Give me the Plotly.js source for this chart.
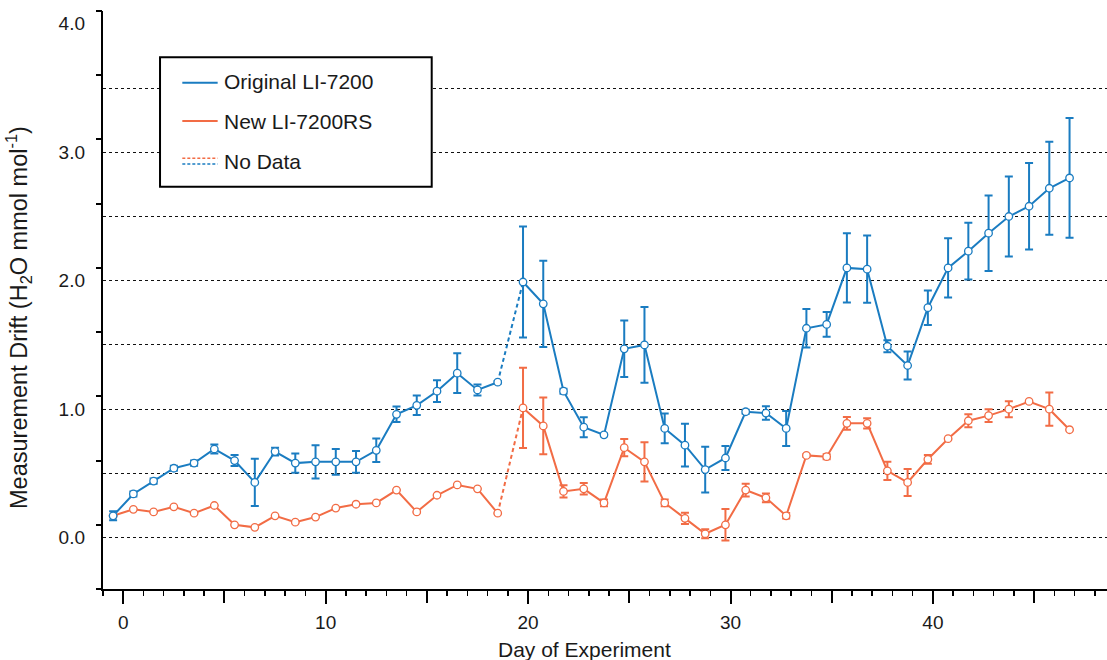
<!DOCTYPE html>
<html>
<head>
<meta charset="utf-8">
<script src="https://cdn.plot.ly/plotly-3.0.1.min.js"></script>
<style>
  html, body { margin: 0; padding: 0; background: #fff; }
  #chart { width: 1107px; height: 660px; }
</style>
</head>
<body>
<div id="chart"></div>
<script>
// ---- data ----
const days = [-0.5, 0.5, 1.5, 2.5, 3.5, 4.5, 5.5, 6.5, 7.5, 8.5, 9.5, 10.5, 11.5, 12.5, 13.5, 14.5, 15.5, 16.5, 17.5, 18.5,
  19.75, 20.75, 21.75, 22.75, 23.75, 24.75, 25.75, 26.75, 27.75, 28.75, 29.75, 30.75, 31.75, 32.75, 33.75,
  34.75, 35.75, 36.75, 37.75, 38.75, 39.75, 40.75, 41.75, 42.75, 43.75, 44.75, 45.75, 46.75];

const originalLI7200 = [0.17, 0.34, 0.44, 0.54, 0.58, 0.69, 0.60, 0.43, 0.67, 0.58, 0.59, 0.59, 0.59, 0.68, 0.96, 1.03, 1.14, 1.28, 1.15, 1.21,
  1.99, 1.82, 1.14, 0.86, 0.80, 1.47, 1.50, 0.85, 0.72, 0.53, 0.62, 0.98, 0.97, 0.85, 1.63,
  1.66, 2.10, 2.09, 1.49, 1.34, 1.79, 2.10, 2.23, 2.37, 2.50, 2.58, 2.72, 2.80];
const originalErr = [0.035, 0.02, 0.02, 0.02, 0.02, 0.035, 0.043, 0.184, 0.03, 0.075, 0.13, 0.10, 0.085, 0.092, 0.06, 0.076, 0.085, 0.155, 0.043, 0.01,
  0.432, 0.336, 0.02, 0.078, 0.01, 0.22, 0.295, 0.116, 0.167, 0.178, 0.093, 0.015, 0.053, 0.136, 0.15,
  0.096, 0.269, 0.262, 0.047, 0.109, 0.134, 0.23, 0.221, 0.294, 0.312, 0.336, 0.362, 0.466];

const newLI7200RS = [0.17, 0.22, 0.20, 0.24, 0.19, 0.25, 0.10, 0.08, 0.17, 0.12, 0.16, 0.23, 0.26, 0.27, 0.37, 0.20, 0.33, 0.41, 0.38, 0.19,
  1.01, 0.87, 0.36, 0.38, 0.27, 0.70, 0.59, 0.27, 0.15, 0.03, 0.10, 0.37, 0.31, 0.17, 0.64,
  0.63, 0.89, 0.89, 0.52, 0.43, 0.61, 0.77, 0.91, 0.95, 1.00, 1.06, 1.00, 0.84];
const newErr = [null, null, null, null, null, null, null, null, null, null, null, null, null, null, null, null, null, null, null, null,
  0.313, 0.221, 0.048, 0.045, 0.026, 0.067, 0.153, 0.026, 0.043, 0.035, 0.123, 0.049, 0.034, 0.022, 0.01,
  0.02, 0.05, 0.04, 0.071, 0.105, 0.034, null, 0.05, 0.05, 0.062, null, 0.129, null];

// index of last point before the "No Data" gap
const gapStart = 19;

// axis tick values / labels
const xLabelVals = [0, 10, 20, 30, 40];
const xLabelText = ["0", "10", "20", "30", "40"];
const xMidTicks = [5, 15, 25, 35, 45];
const yGridVals = [0, 0.5, 1, 1.5, 2, 2.5, 3, 3.5];
const yLabelVals = [0, 1, 2, 3, 4];
const yLabelText = ["0.0", "1.0", "2.0", "3.0", "4.0"];
const yTickMarks = [-0.4, 0.1, 0.6, 1.1, 1.6, 2.1, 2.6, 3.1, 3.6, 4.1];

const legendNames = ["Original LI-7200", "New LI-7200RS", "No Data"];
const xTitle = "Day of Experiment";
const yTitle = "Measurement Drift (H<sub>2</sub>O mmol mol<sup>-1</sup>)";

// ---- styling ----
const BLUE = "#1a7cc1";
const ORANGE = "#f26c45";
const FONT = "Liberation Sans, Arial, Helvetica, sans-serif";
const TXT = "#1a1a1a";

function solidTrace(x, y, err, color) {
  return {
    x: x, y: y, type: "scatter", mode: "lines+markers",
    line: { color: color, width: 2 },
    marker: { symbol: "circle", size: 7.5, color: "#ffffff", line: { color: color, width: 1.3 } },
    error_y: { type: "data", array: err, visible: true, color: color, thickness: 2, width: 4 },
    hoverinfo: "skip", showlegend: false, cliponaxis: false
  };
}
function dashTrace(x, y, color) {
  return {
    x: x, y: y, type: "scatter", mode: "lines",
    line: { color: color, width: 2, dash: "4px,3px" },
    hoverinfo: "skip", showlegend: false
  };
}

const a = gapStart + 1;
const traces = [
  dashTrace(days.slice(gapStart, a + 1), newLI7200RS.slice(gapStart, a + 1), ORANGE),
  dashTrace(days.slice(gapStart, a + 1), originalLI7200.slice(gapStart, a + 1), BLUE),
  solidTrace(days.slice(0, a), newLI7200RS.slice(0, a), newErr.slice(0, a), ORANGE),
  solidTrace(days.slice(a), newLI7200RS.slice(a), newErr.slice(a), ORANGE),
  solidTrace(days.slice(0, a), originalLI7200.slice(0, a), originalErr.slice(0, a), BLUE),
  solidTrace(days.slice(a), originalLI7200.slice(a), originalErr.slice(a), BLUE),
  // empty helper traces so the overlay axes (labels / offset ticks) are drawn
  { x: [null], y: [null], yaxis: "y2", type: "scatter", mode: "markers", showlegend: false, hoverinfo: "skip" },
  { x: [null], y: [null], yaxis: "y3", type: "scatter", mode: "markers", showlegend: false, hoverinfo: "skip" },
  { x: [null], y: [null], xaxis: "x2", type: "scatter", mode: "markers", showlegend: false, hoverinfo: "skip" }
];

// legend (drawn as a boxed key, paper coordinates)
const L = { x0: 0.0568, x1: 0.3274, y0: 0.696, y1: 0.92 };
const keyX0 = 0.0790, keyX1 = 0.1142, textX = 0.1190;
const shapes = [
  { type: "rect", xref: "paper", yref: "paper", x0: L.x0, x1: L.x1, y0: L.y0, y1: L.y1,
    line: { color: "#000", width: 2 }, fillcolor: "rgba(255,255,255,1)", layer: "above" },
  { type: "line", xref: "paper", yref: "paper", x0: keyX0, x1: keyX1, y0: 0.876, y1: 0.876, line: { color: BLUE, width: 2 } },
  { type: "line", xref: "paper", yref: "paper", x0: keyX0, x1: keyX1, y0: 0.8097, y1: 0.8097, line: { color: ORANGE, width: 2 } },
  { type: "line", xref: "paper", yref: "paper", x0: keyX0, x1: keyX1, y0: 0.7451, y1: 0.7451, line: { color: ORANGE, width: 1.5, dash: "3px,2px" } },
  { type: "line", xref: "paper", yref: "paper", x0: keyX0, x1: keyX1, y0: 0.7353, y1: 0.7353, line: { color: BLUE, width: 1.5, dash: "3px,2px" } }
];
const legFont = { family: FONT, size: 21, color: TXT };
const annotations = [
  { xref: "paper", yref: "paper", x: textX, y: 0.8772, text: legendNames[0], showarrow: false, xanchor: "left", yanchor: "middle", font: legFont },
  { xref: "paper", yref: "paper", x: textX, y: 0.8085, text: legendNames[1], showarrow: false, xanchor: "left", yanchor: "middle", font: legFont },
  { xref: "paper", yref: "paper", x: textX, y: 0.7393, text: legendNames[2], showarrow: false, xanchor: "left", yanchor: "middle", font: legFont },
  { xref: "paper", yref: "paper", x: -0.0837, y: 0.4706, textangle: -90, showarrow: false, xanchor: "center", yanchor: "middle",
    text: yTitle, font: { family: FONT, size: 23.5, color: TXT } },
  { xref: "paper", yref: "paper", x: 0.480, y: -0.1055, showarrow: false, xanchor: "center", yanchor: "middle",
    text: xTitle, font: { family: FONT, size: 21, color: TXT } }
];

const yRange = [-0.4, 4.1];
const xRange = [-1, 48.6];
const tickFont = { family: FONT, size: 19, color: TXT };
const layout = {
  width: 1107, height: 660,
  margin: { l: 103, r: 0, t: 11, b: 71, pad: 0 },
  paper_bgcolor: "#fff", plot_bgcolor: "#fff",
  font: { family: FONT, size: 19, color: TXT },
  showlegend: false,
  xaxis: {
    range: xRange, tickmode: "array", tickvals: xLabelVals, ticktext: xLabelText,
    ticks: "outside", ticklen: 13, tickwidth: 2, tickcolor: "#000",
    minor: { tickmode: "linear", tick0: 0, dtick: 1, ticks: "outside", ticklen: 5, tickwidth: 1.5, tickcolor: "#000", showgrid: false },
    showline: true, linecolor: "#000", linewidth: 2, showgrid: false, zeroline: false,
    tickfont: tickFont, ticklabelstandoff: 2
  },
  xaxis2: {
    overlaying: "x", side: "bottom", anchor: "y", range: xRange, tickmode: "array", tickvals: xMidTicks,
    ticks: "outside", ticklen: 13, tickwidth: 2, tickcolor: "#000", showticklabels: false,
    showline: false, showgrid: false, zeroline: false
  },
  yaxis: {
    range: yRange, tickmode: "array", tickvals: yGridVals, showticklabels: false, ticks: "",
    showgrid: true, gridcolor: "#111", gridwidth: 1, griddash: "3px,3px",
    showline: true, linecolor: "#000", linewidth: 2, zeroline: false
  },
  yaxis2: {
    overlaying: "y", side: "left", range: yRange, tickmode: "array", tickvals: yLabelVals, ticktext: yLabelText,
    ticks: "", showgrid: false, showline: false, zeroline: false,
    tickfont: tickFont, ticklabelstandoff: 17
  },
  yaxis3: {
    overlaying: "y", side: "left", range: yRange, tickmode: "array", tickvals: yTickMarks,
    ticks: "outside", ticklen: 6, tickwidth: 2, tickcolor: "#000", showticklabels: false,
    showgrid: false, showline: false, zeroline: false
  },
  shapes: shapes,
  annotations: annotations
};

Plotly.newPlot("chart", traces, layout, { displayModeBar: false, staticPlot: true });
</script>
</body>
</html>
